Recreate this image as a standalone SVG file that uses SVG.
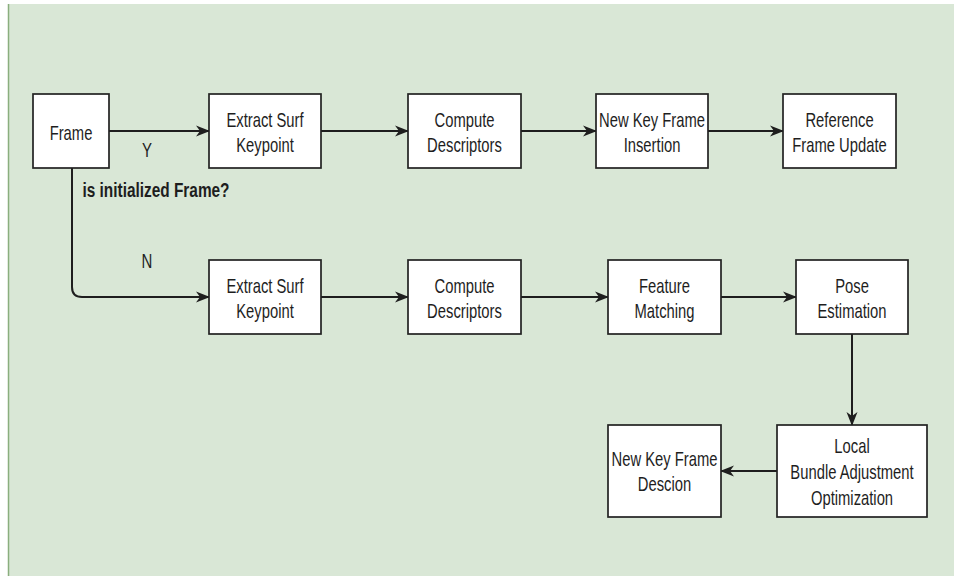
<svg xmlns="http://www.w3.org/2000/svg" width="954" height="576" viewBox="0 0 954 576">
<style>
.box{fill:#ffffff;stroke:#222222;stroke-width:1.7}
.lbl{font-family:"Liberation Sans",Arial,sans-serif;font-size:20px;fill:#1e1e1e;text-anchor:middle}
.bold{font-weight:bold}
.edge{fill:none;stroke:#1e1e1e;stroke-width:2}
</style>
<defs>
<marker id="arr" markerWidth="14" markerHeight="14" viewBox="0 0 14 14" refX="13" refY="7" orient="auto" markerUnits="userSpaceOnUse">
<path d="M0,1.5 L14,7 L0,12.5 L4,7 z" fill="#1e1e1e"/>
</marker>
</defs>
<rect x="0" y="0" width="954" height="576" fill="#ffffff"/>
<rect x="8" y="4" width="946" height="572" fill="#d9e7d6"/>
<line x1="8.5" y1="4" x2="8.5" y2="576" stroke="#8aae7e" stroke-width="1.5"/>

<g id="connectors">
<path class="edge" marker-end="url(#arr)" d="M109,131 L209,131"/>
<path class="edge" marker-end="url(#arr)" d="M321,131 L408,131"/>
<path class="edge" marker-end="url(#arr)" d="M521,131 L596,131"/>
<path class="edge" marker-end="url(#arr)" d="M708,131 L783,131"/>
<path class="edge" marker-end="url(#arr)" d="M72,168 L72,287 Q72,297 82,297 L209,297"/>
<path class="edge" marker-end="url(#arr)" d="M321,297 L408,297"/>
<path class="edge" marker-end="url(#arr)" d="M521,297 L608,297"/>
<path class="edge" marker-end="url(#arr)" d="M721,297 L796,297"/>
<path class="edge" marker-end="url(#arr)" d="M852,334 L852,425"/>
<path class="edge" marker-end="url(#arr)" d="M777,471 L721,471"/>
<text class="lbl" transform="translate(147 0) scale(0.75 1)" x="0" y="157">Y</text>
<text class="lbl" transform="translate(147 0) scale(0.75 1)" x="0" y="268">N</text>
<text class="lbl bold" transform="translate(156 0) scale(0.77 1)" x="0" y="197">is initialized Frame?</text>
</g>

<g id="frame">
<rect class="box" x="33" y="94" width="76" height="74"/>
<text class="lbl" transform="translate(71 0) scale(0.74 1)" x="0" y="140">Frame</text>
</g>
<g id="extract-top">
<rect class="box" x="209" y="94" width="112" height="74"/>
<text class="lbl" transform="translate(265 0) scale(0.74 1)"><tspan x="0" y="127">Extract Surf</tspan><tspan x="0" y="152">Keypoint</tspan></text>
</g>
<g id="compute-top">
<rect class="box" x="408" y="94" width="113" height="74"/>
<text class="lbl" transform="translate(464.5 0) scale(0.74 1)"><tspan x="0" y="127">Compute</tspan><tspan x="0" y="152">Descriptors</tspan></text>
</g>
<g id="newkey-insertion">
<rect class="box" x="596" y="94" width="112" height="74"/>
<text class="lbl" transform="translate(652 0) scale(0.74 1)"><tspan x="0" y="127">New Key Frame</tspan><tspan x="0" y="152">Insertion</tspan></text>
</g>
<g id="reference-update">
<rect class="box" x="783" y="94" width="113" height="74"/>
<text class="lbl" transform="translate(839.5 0) scale(0.74 1)"><tspan x="0" y="127">Reference</tspan><tspan x="0" y="152">Frame Update</tspan></text>
</g>
<g id="extract-bottom">
<rect class="box" x="209" y="260" width="112" height="74"/>
<text class="lbl" transform="translate(265 0) scale(0.74 1)"><tspan x="0" y="293">Extract Surf</tspan><tspan x="0" y="318">Keypoint</tspan></text>
</g>
<g id="compute-bottom">
<rect class="box" x="408" y="260" width="113" height="74"/>
<text class="lbl" transform="translate(464.5 0) scale(0.74 1)"><tspan x="0" y="293">Compute</tspan><tspan x="0" y="318">Descriptors</tspan></text>
</g>
<g id="feature-matching">
<rect class="box" x="608" y="260" width="113" height="74"/>
<text class="lbl" transform="translate(664.5 0) scale(0.74 1)"><tspan x="0" y="293">Feature</tspan><tspan x="0" y="318">Matching</tspan></text>
</g>
<g id="pose-estimation">
<rect class="box" x="796" y="260" width="112" height="74"/>
<text class="lbl" transform="translate(852 0) scale(0.74 1)"><tspan x="0" y="293">Pose</tspan><tspan x="0" y="318">Estimation</tspan></text>
</g>
<g id="local-ba">
<rect class="box" x="777" y="425" width="150" height="92"/>
<text class="lbl" transform="translate(852 0) scale(0.74 1)"><tspan x="0" y="453">Local</tspan><tspan x="0" y="479">Bundle Adjustment</tspan><tspan x="0" y="505">Optimization</tspan></text>
</g>
<g id="newkey-descion">
<rect class="box" x="608" y="425" width="113" height="92"/>
<text class="lbl" transform="translate(664.5 0) scale(0.74 1)"><tspan x="0" y="466">New Key Frame</tspan><tspan x="0" y="491">Descion</tspan></text>
</g>
</svg>
